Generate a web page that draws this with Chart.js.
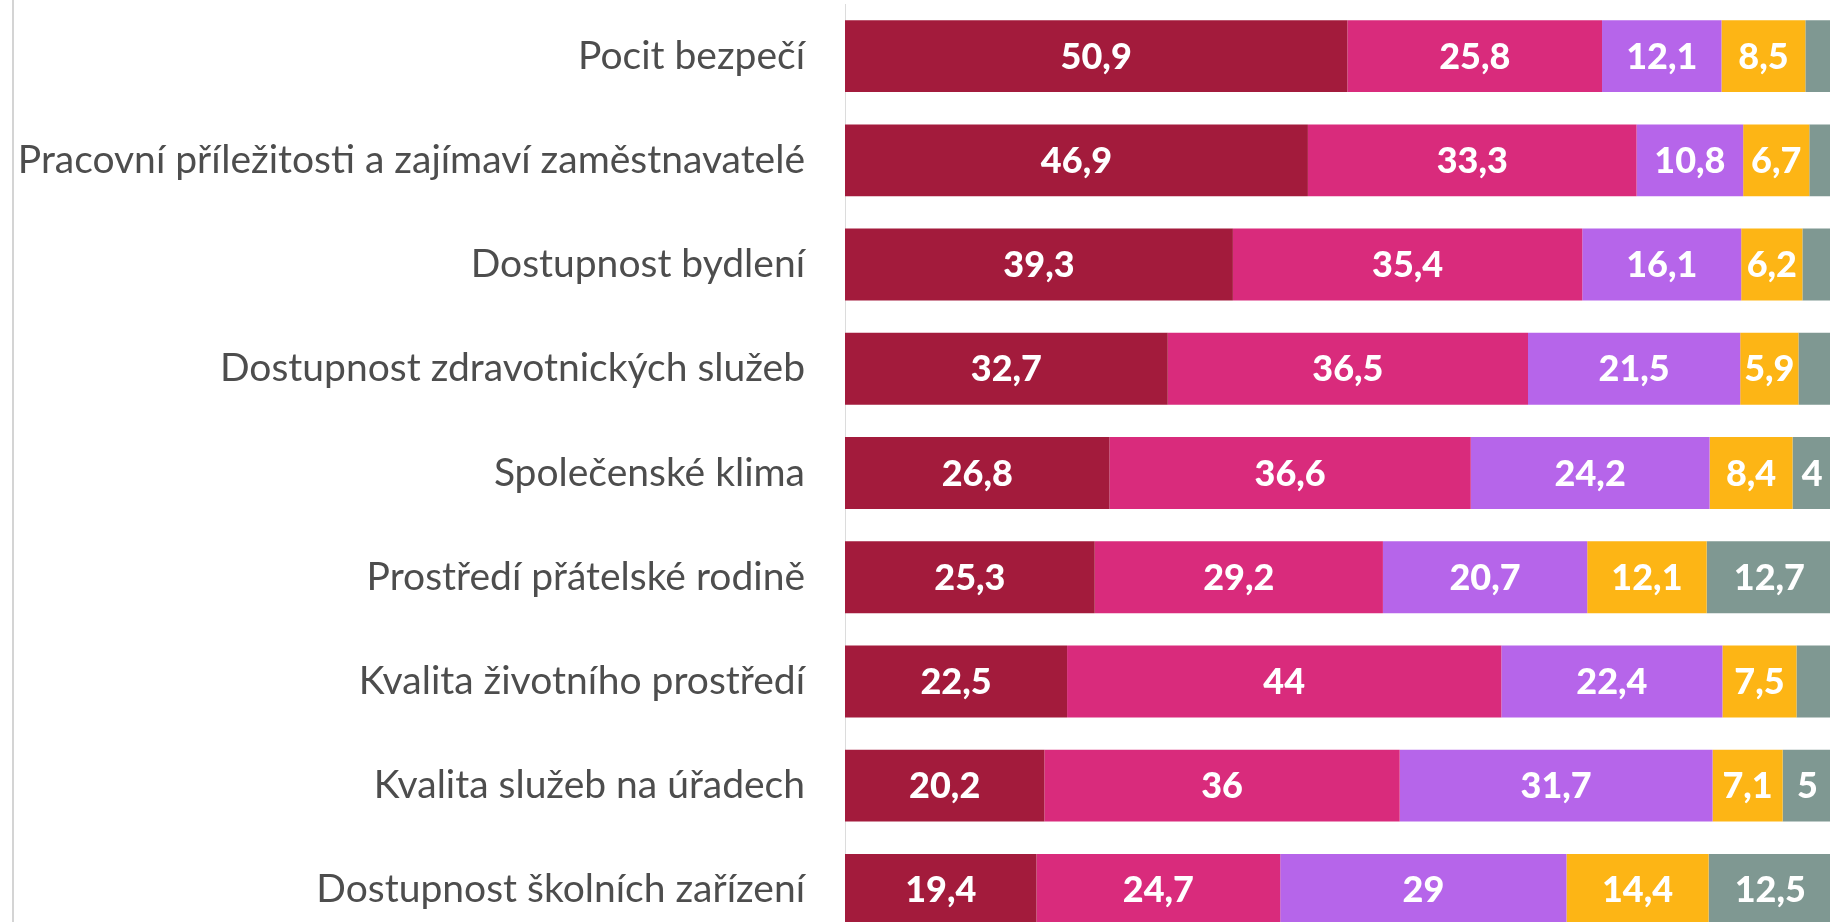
<!DOCTYPE html>
<html>
<head>
<meta charset="utf-8">
<script src="https://cdn.jsdelivr.net/npm/chart.js@4"></script>
<style>
  html, body { margin: 0; padding: 0; background: #fff; overflow: hidden; }
  #wrap { position: relative; width: 1830px; height: 922px; overflow: hidden; }
  #graf { position: absolute; left: 0; top: 0; }
</style>
</head>
<body>
<div id="wrap"><canvas id="graf" width="1840" height="950"></canvas></div>
<script>
const kategorie = [
  "Pocit bezpečí",
  "Pracovní příležitosti a zajímaví zaměstnavatelé",
  "Dostupnost bydlení",
  "Dostupnost zdravotnických služeb",
  "Společenské klima",
  "Prostředí přátelské rodině",
  "Kvalita životního prostředí",
  "Kvalita služeb na úřadech",
  "Dostupnost školních zařízení"
];

const rada1 = [50.9, 46.9, 39.3, 32.7, 26.8, 25.3, 22.5, 20.2, 19.4];
const rada2 = [25.8, 33.3, 35.4, 36.5, 36.6, 29.2, 44, 36, 24.7];
const rada3 = [12.1, 10.8, 16.1, 21.5, 24.2, 20.7, 22.4, 31.7, 29];
const rada4 = [8.5, 6.7, 6.2, 5.9, 8.4, 12.1, 7.5, 7.1, 14.4];
const rada5 = [2.7, 2.3, 3.0, 3.4, 4, 12.7, 3.6, 5, 12.5];

const barvy = ['#A31B3C', '#D92B7C', '#B665EA', '#FDB515', '#7F9892'];

// popisky hodnot uvnitř segmentů
const popisky = {
  id: 'popisky',
  beforeDraw(chart) {
    const ctx = chart.ctx;
    ctx.save();
    ctx.strokeStyle = '#d4d4d4';
    ctx.lineWidth = 2;
    ctx.beginPath();
    ctx.moveTo(13, 0);
    ctx.lineTo(13, chart.height);
    ctx.stroke();
    ctx.restore();
  },
  afterDatasetsDraw(chart) {
    const ctx = chart.ctx;
    ctx.save();
    ctx.font = '900 36px Lato';
    ctx.fillStyle = '#ffffff';
    ctx.textAlign = 'center';
    ctx.textBaseline = 'middle';
    chart.data.datasets.forEach((ds, i) => {
      chart.getDatasetMeta(i).data.forEach((bar, j) => {
        const v = ds.data[j];
        if (v < 4) return;
        const x = (bar.x + bar.base) / 2;
        ctx.fillText(String(v).replace('.', ','), x, bar.y + 1);
      });
    });
    ctx.restore();
  }
};

new Chart(document.getElementById('graf'), {
  type: 'bar',
  data: {
    labels: kategorie,
    datasets: [rada1, rada2, rada3, rada4, rada5].map((d, i) => ({
      data: d,
      backgroundColor: barvy[i],
      borderWidth: 0,
      barPercentage: 0.69,
      categoryPercentage: 1
    }))
  },
  options: {
    indexAxis: 'y',
    responsive: false,
    animation: false,
    layout: { padding: { top: 4, right: 8, bottom: 8, left: 0 } },
    plugins: { legend: { display: false }, tooltip: { enabled: false } },
    scales: {
      x: { stacked: true, min: 0, max: 100, display: false },
      y: {
        stacked: true,
        grid: { display: false },
        border: { display: true, color: '#dcdcdc', width: 1 },
        ticks: { color: '#4d4d4d', font: { family: 'Lato', size: 39 }, padding: 32 },
        afterFit(scale) {
          scale.width = 845;
          scale.paddingTop = 0;
          scale.paddingBottom = 0;
        }
      }
    }
  },
  plugins: [popisky]
});
</script>
</body>
</html>
